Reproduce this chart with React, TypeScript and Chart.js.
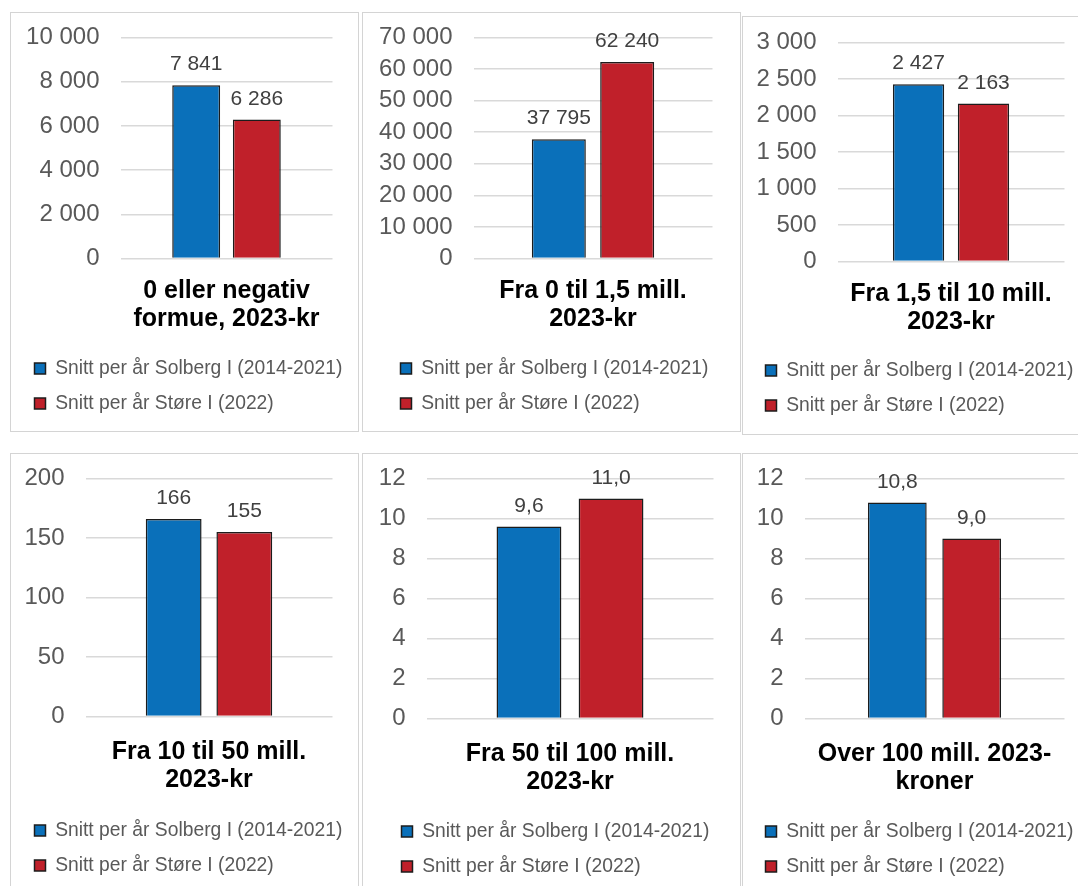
import React, { useEffect, useRef } from 'react';
import { Chart, registerables } from 'chart.js';

Chart.register(...registerables);

// ---------- data ----------
const categories: string[][] = [
  ['0 eller negativ', 'formue, 2023-kr'],
  ['Fra 0 til 1,5 mill.', '2023-kr'],
  ['Fra 1,5 til 10 mill.', '2023-kr'],
  ['Fra 10 til 50 mill.', '2023-kr'],
  ['Fra 50 til 100 mill.', '2023-kr'],
  ['Over 100 mill. 2023-', 'kroner'],
];
const seriesNames = ['Snitt per år Solberg I (2014-2021)', 'Snitt per år Støre I (2022)'];
const solbergValues = [7841, 37795, 2427, 166, 9.6, 10.8];
const storeValues = [6286, 62240, 2163, 155, 11.0, 9.0];
const axisMax = [10000, 70000, 3000, 200, 12, 12];
const axisStep = [2000, 10000, 500, 50, 2, 2];
const labelDecimals = [0, 0, 0, 0, 1, 1];

// ---------- styles / layout ----------
const BLUE = '#0A70BA';
const RED = '#C0202A';
const EDGE = '#1c1c1c';
const FONT = "'Liberation Sans', Arial, Helvetica, sans-serif";
const BW = 1.5;
const LEG_FS = 19.3;
const LEG_PAD = 15.7;
const TITLE_FS = 25;
const TITLE_LH = 28;
const TICK_FS = 24;
const TICK_GAP = 21;
const TEXT_NUDGE = 2; // canvas 'middle' sits slightly above cap-centre

// panel frame (page px): box, plot area edges, legend start x, legend first row centre, title first line centre
const frames = [
  { x: 10, y: 12, w: 349, h: 420, pl: 121, pr: 333, pt: 38, pb: 259, lx: 35, ly: 367, ty: 290 },
  { x: 362, y: 12, w: 379, h: 420, pl: 474, pr: 713, pt: 38, pb: 259, lx: 401, ly: 367, ty: 290 },
  { x: 742, y: 16, w: 345, h: 419, pl: 838, pr: 1065, pt: 43, pb: 262, lx: 766, ly: 369, ty: 293 },
  { x: 10, y: 453, w: 349, h: 450, pl: 86, pr: 333, pt: 479, pb: 717, lx: 35, ly: 829, ty: 751 },
  { x: 362, y: 453, w: 379, h: 450, pl: 427, pr: 714, pt: 479, pb: 719, lx: 402, ly: 830, ty: 753 },
  { x: 742, y: 453, w: 345, h: 450, pl: 805, pr: 1065, pt: 479, pb: 719, lx: 766, ly: 830, ty: 753 },
];

function fmt(v: number, dec: number): string {
  const [ip, dp] = v.toFixed(dec).split('.');
  const int = ip.replace(/\B(?=(\d{3})+(?!\d))/g, ' ');
  return dp ? int + ',' + dp : int;
}

function Panel({ i }: { i: number }) {
  const ref = useRef<HTMLCanvasElement>(null);
  const f = frames[i];
  const ox = f.x + BW;
  const oy = f.y + BW;
  const cw = f.w - 2 * BW;
  const ch = f.h - 2 * BW;

  useEffect(() => {
    const legendLeft = f.lx - ox - LEG_PAD;
    const padTop = f.pt - oy;
    const padRight = cw - (f.pr - ox);
    const legendTop = f.ly + TEXT_NUDGE - oy - LEG_PAD - LEG_FS / 2;
    const legendH = 2 * (LEG_FS + LEG_PAD) + 10;
    const padBottom = ch - legendTop - legendH;
    const yWidth = f.pl - ox;
    const xHeight = legendTop - (f.pb - oy);
    const xPad = f.ty + TEXT_NUDGE - TITLE_LH / 2 - f.pb;

    const valueLabels = {
      id: 'valueLabels',
      afterDatasetsDraw(chart: any) {
        const ctx = chart.ctx;
        ctx.save();
        ctx.font = `21px ${FONT}`;
        ctx.fillStyle = '#404040';
        ctx.textAlign = 'center';
        ctx.textBaseline = 'alphabetic';
        chart.data.datasets.forEach((ds: any, di: number) => {
          const meta = chart.getDatasetMeta(di);
          meta.data.forEach((el: any, j: number) => {
            ctx.fillText(fmt(Number(ds.data[j]), labelDecimals[i]), el.x, el.y - 15);
          });
        });
        ctx.restore();
      },
    };

    const legendShift = {
      id: 'legendShift',
      afterLayout(chart: any) {
        const lg = chart.legend;
        if (lg) {
          lg.left = legendLeft;
          lg.right = chart.width;
        }
      },
    };

    const chart = new Chart(ref.current as HTMLCanvasElement, {
      type: 'bar',
      data: {
        labels: [categories[i]],
        datasets: [
          { label: seriesNames[0], data: [solbergValues[i]], backgroundColor: BLUE, borderColor: EDGE, borderWidth: 1.5 },
          { label: seriesNames[1], data: [storeValues[i]], backgroundColor: RED, borderColor: EDGE, borderWidth: 1.5 },
        ],
      },
      options: {
        animation: false,
        responsive: true,
        maintainAspectRatio: false,
        layout: { padding: { left: 0, right: padRight, top: padTop, bottom: padBottom } },
        datasets: { bar: { categoryPercentage: 0.572, barPercentage: 0.79 } },
        scales: {
          x: {
            grid: { display: false, drawTicks: false },
            border: { display: false },
            ticks: {
              padding: xPad,
              color: '#000000',
              font: { family: FONT, size: TITLE_FS, weight: 'bold', lineHeight: TITLE_LH / TITLE_FS },
            },
            afterFit: (s: any) => { s.height = xHeight; },
          },
          y: {
            min: 0,
            max: axisMax[i],
            grid: {
              color: '#d9d9d9',
              lineWidth: 1.5,
              drawTicks: true,
              tickLength: TICK_GAP,
              tickColor: 'rgba(0,0,0,0)',
            },
            border: { display: false },
            ticks: {
              stepSize: axisStep[i],
              autoSkip: false,
              padding: 0,
              color: '#595959',
              font: { family: FONT, size: TICK_FS },
              callback: (v: any) => fmt(Number(v), 0),
            },
            afterFit: (s: any) => { s.width = yWidth; },
          },
        },
        plugins: {
          legend: {
            position: 'bottom',
            align: 'start',
            labels: {
              boxWidth: 11,
              boxHeight: 11,
              padding: LEG_PAD,
              color: '#595959',
              font: { family: FONT, size: LEG_FS },
            },
          },
          tooltip: { enabled: false },
        },
      } as any,
      plugins: [valueLabels, legendShift],
    });
    return () => chart.destroy();
  }, []);

  return (
    <div
      style={{
        position: 'absolute',
        left: f.x,
        top: f.y,
        width: f.w,
        height: f.h,
        border: `${BW}px solid #d4d4d4`,
        boxSizing: 'border-box',
        background: '#ffffff',
      }}
    >
      <div style={{ position: 'absolute', left: 0, top: 0, width: cw, height: ch }}>
        <canvas ref={ref} />
      </div>
    </div>
  );
}

export default function App() {
  return (
    <div
      style={{
        position: 'absolute',
        left: 0,
        top: 0,
        width: 1078,
        height: 886,
        overflow: 'hidden',
        background: '#ffffff',
      }}
    >
      {frames.map((_, i) => (
        <Panel key={i} i={i} />
      ))}
    </div>
  );
}
